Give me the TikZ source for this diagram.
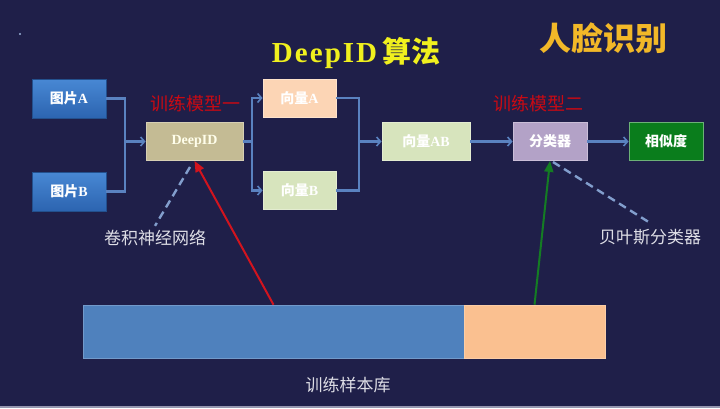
\documentclass[tikz,border=0pt]{standalone}
\usepackage{fontspec}
\setmainfont{Liberation Serif}
\newfontfamily\cjk{Noto Sans CJK SC}
\usetikzlibrary{arrows.meta,calc}
\definecolor{bg}{RGB}{31,31,73}
\definecolor{bottomline}{RGB}{150,150,175}
\definecolor{conncol}{RGB}{90,130,192}
\definecolor{dashcol}{RGB}{130,158,205}
\definecolor{lblcol}{RGB}{222,222,230}
\definecolor{titley}{RGB}{240,240,30}
\definecolor{titleo}{RGB}{242,184,40}
\definecolor{redt}{RGB}{200,10,20}
\definecolor{tanbox}{RGB}{196,187,148}
\definecolor{peach}{RGB}{252,213,181}
\definecolor{lgreen}{RGB}{215,228,189}
\definecolor{lav}{RGB}{179,162,199}
\definecolor{dgreen}{RGB}{10,125,28}
\definecolor{barblue}{RGB}{79,129,189}
\definecolor{barpeach}{RGB}{250,192,144}
\definecolor{redarr}{RGB}{210,20,30}
\definecolor{greenarr}{RGB}{20,125,35}
\definecolor{btop}{RGB}{72,136,212}
\definecolor{bbot}{RGB}{44,100,176}
\tikzset{
  box/.style={draw=#1!70!white, line width=0.8pt, fill=#1, minimum height=38pt, inner sep=0pt, text=white, font=\bfseries\fontsize{14}{14}\selectfont},
  bluebox/.style={draw=bbot!80!black, line width=0.8pt, top color=btop, bottom color=bbot, minimum width=74pt, minimum height=39pt, inner sep=0pt, text=white, font=\bfseries\fontsize{14}{14}\selectfont},
  line/.style={draw=conncol, line width=2.2pt},
  conn/.style={line, -{Straight Barb[length=4pt,width=9pt,line width=1.6pt]}},
  dashline/.style={draw=dashcol, line width=2.4pt, dash pattern=on 8pt off 5pt},
  lbl/.style={text=lblcol, font=\cjk\fontsize{17}{17}\selectfont, inner sep=0pt},
  redlbl/.style={text=redt, font=\cjk\fontsize{18}{18}\selectfont, inner sep=0pt},
}
\begin{document}
\begin{tikzpicture}[x=1pt,y=-1pt]
\fill[bg] (0,0) rectangle (720,408);
\useasboundingbox (0,0) rectangle (720,408);
\fill[bottomline] (0,405.5) rectangle (720,408);
\fill[dashcol!80!white] (20,34) circle (1.2);
% titles
\node[text=titley, inner sep=0pt, anchor=center] (title) at (356,53) {\fontsize{29}{29}\selectfont\bfseries\addfontfeature{LetterSpace=7}DeepID\,{\cjk\bfseries 算法}};
\node[text=titleo, inner sep=0pt] (face) at (603,38) {\cjk\bfseries\fontsize{32}{32}\selectfont 人脸识别};
% boxes
\node[bluebox] (pa) at (69,98.5) {{\cjk 图片}A};
\node[bluebox] (pb) at (69,191.5) {{\cjk 图片}B};
\node[box=tanbox, minimum width=97pt, text=white!92!yellow] (did) at (194.5,141.5) {DeepID};
\node[box=peach, minimum width=73pt] (va) at (299.5,98) {{\cjk 向量}A};
\node[box=lgreen, minimum width=73pt] (vb) at (299.5,190.5) {{\cjk 向量}B};
\node[box=lgreen, minimum width=88pt] (vab) at (426,141.5) {{\cjk 向量}AB};
\node[box=lav, minimum width=74pt] (cls) at (550,141.5) {\cjk 分类器};
\node[box=dgreen, minimum width=74pt, draw=dgreen!60!white] (sim) at (666,141.5) {\cjk 相似度};
% red labels
\node[redlbl] (m1) at (195,104) {训练模型一};
\node[redlbl] (m2) at (538,104) {训练模型二};
% connectors
\coordinate (j1) at (125,141.5);
\coordinate (j2) at (252,141.5);
\coordinate (j3) at (359,141.5);
\draw[line] (pa.east) -| (j1);
\draw[line] (pb.east) -| (j1);
\draw[conn] (j1) -- (did.west);
\draw[line] (did.east) -- (j2);
\draw[conn] (j2) |- (va.west);
\draw[conn] (j2) |- (vb.west);
\draw[line] (va.east) -| (j3);
\draw[line] (vb.east) -| (j3);
\draw[conn] (j3) -- (vab.west);
\draw[conn] (vab.east) -- (cls.west);
\draw[conn] (cls.east) -- (sim.west);
% bottom bar
\node[draw=barblue!80!white, line width=0.6pt, fill=barblue, minimum width=381pt, minimum height=53pt, inner sep=0pt] (bar1) at (273.5,331.5) {};
\node[draw=barpeach!80!white, line width=0.6pt, fill=barpeach, minimum width=141pt, minimum height=53pt, inner sep=0pt] (bar2) at (534.5,331.5) {};
\node[lbl] (lib) at (348,385) {训练样本库};
% labels with dashed pointers
\node[lbl] (cnn) at (155,238) {卷积神经网络};
\node[lbl] (bayes) at (650,237) {贝叶斯分类器};
\coordinate (d1) at (190,167);
\coordinate (d2) at (553,162);
\draw[dashline] (d1) -- ($(cnn.north)+(0,-4)$);
\draw[dashline] (d2) -- ($(bayes.north)+(0,-6)$);
% training arrows
\draw[draw=redarr, line width=2pt, -{Triangle[length=11pt,width=9pt]}] (bar1.north) -- (did.south);
\draw[draw=greenarr, line width=2pt, -{Triangle[length=11pt,width=9pt]}] (bar2.north) -- (cls.south);
\end{tikzpicture}
\end{document}
